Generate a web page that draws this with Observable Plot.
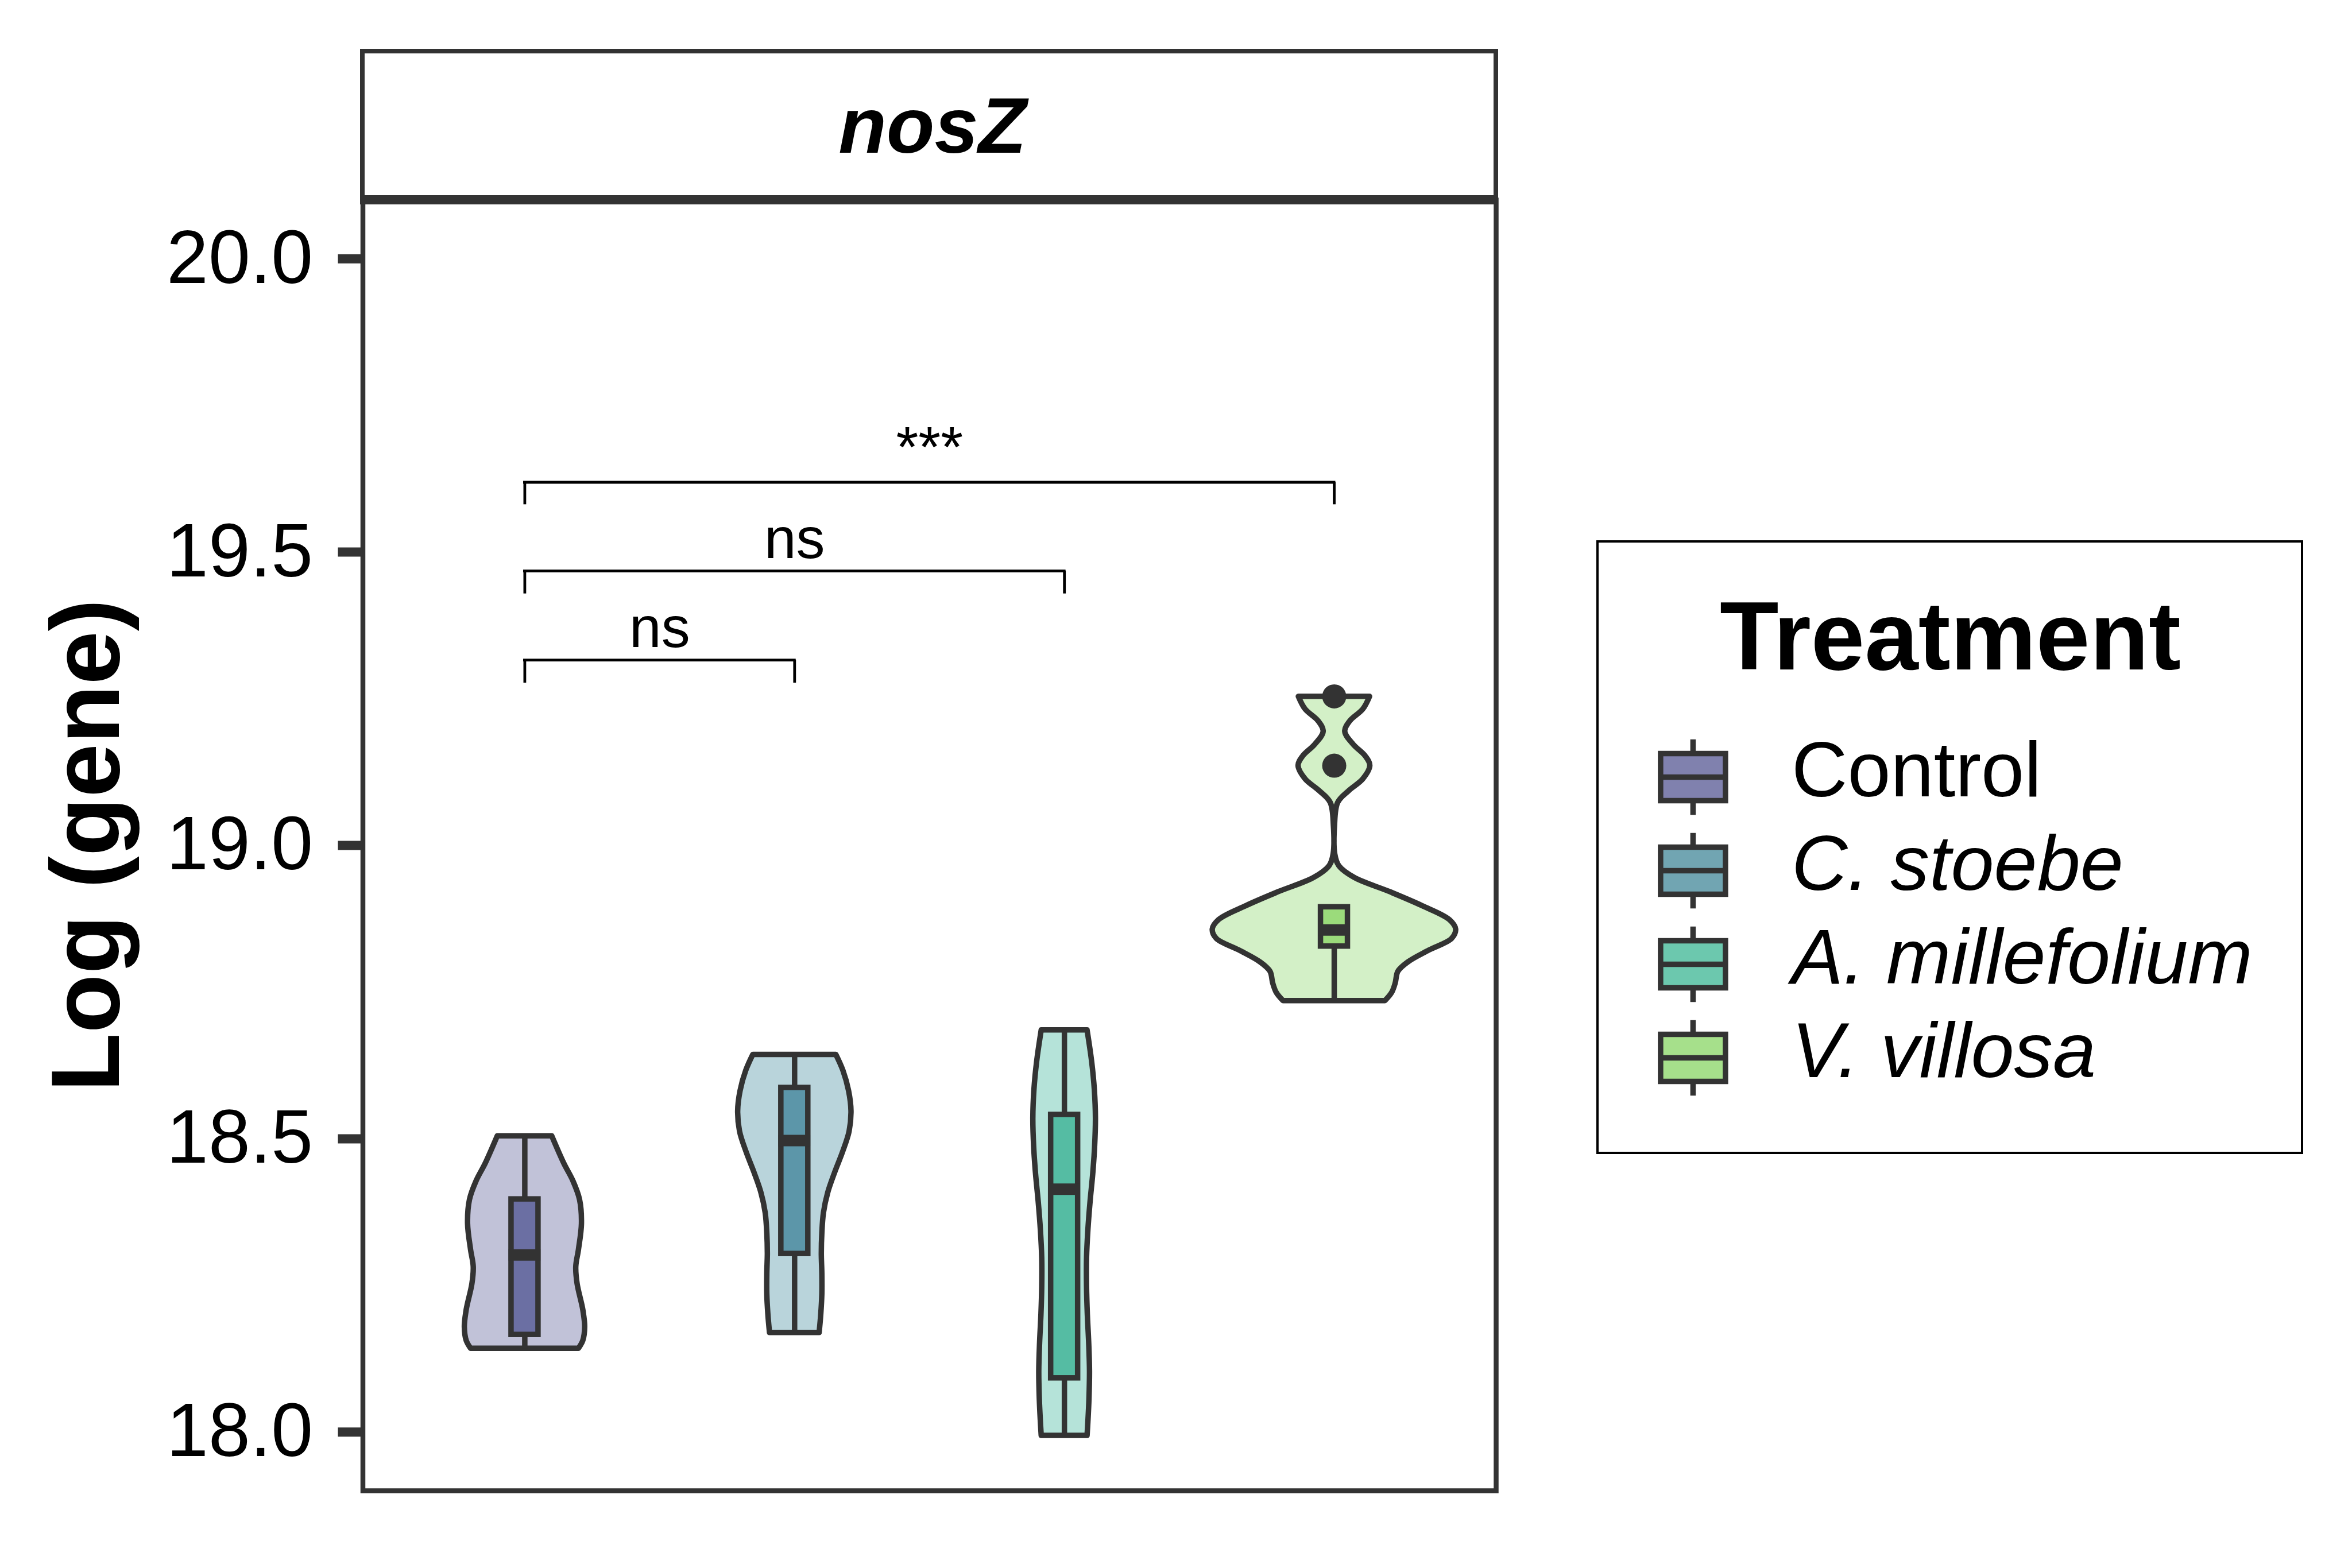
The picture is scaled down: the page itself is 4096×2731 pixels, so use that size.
<!DOCTYPE html>
<html>
<head>
<meta charset="utf-8">
<script src="https://cdn.jsdelivr.net/npm/d3@7"></script>
<script src="https://cdn.jsdelivr.net/npm/@observablehq/plot@0.6"></script>
<style>
  html, body { margin: 0; padding: 0; background: white; }
  #page { position: relative; width: 4096px; height: 2731px; overflow: hidden; background: white;
          font-family: "Liberation Sans", Arial, sans-serif; }
  .abs { position: absolute; }
</style>
</head>
<body>
<div id="page">
  <div id="main" class="abs" style="left:0;top:0;width:2700px;"></div>
  <div id="strip" class="abs" style="left:627.25px;top:84.75px;width:1982px;height:271.25px;box-sizing:border-box;border:8.5px solid #333333;border-bottom-width:16px;background:transparent;"></div>
  <div id="legend" class="abs" style="left:2781.8px;top:943px;width:1227px;height:1065px;"></div>
  <div id="legendBorder" class="abs" style="left:2779.65px;top:940.85px;width:1231.3px;height:1069.3px;box-sizing:border-box;border:4.3px solid #000000;background:transparent;"></div>
</div>
<script>
// ---------- data ----------
const treatments = ["Control", "C. stoebe", "A. millefolium", "V. villosa"];
const boxFill    = ["#6B6FA3", "#5C96A9", "#55BCA3", "#9BDB7B"];
const violinFill = ["#C1C2D8", "#B9D4DB", "#B5E3D9", "#D3F0C7"];
const keyFill    = ["#8081AE", "#71A5B2", "#6CC8AE", "#A6E08B"];

// violin outlines: [value, half-width in category units]
const controlProfile = [[18.5045,0.101],[18.4575,0.146],[18.4283,0.179],[18.396,0.204],[18.355,0.211],[18.311,0.200],[18.2817,0.190],[18.2524,0.195],[18.2084,0.216],[18.179,0.223],[18.1556,0.216],[18.1425,0.200]];
const stoebeProfile = [[18.6432,0.154],[18.6162,0.180],[18.5816,0.201],[18.547,0.210],[18.5123,0.203],[18.4776,0.179],[18.443,0.150],[18.4083,0.124],[18.3737,0.108],[18.339,0.102],[18.3044,0.100],[18.2698,0.102],[18.2351,0.102],[18.2005,0.098],[18.1693,0.092]];
const millefoliumProfile = [[18.685,0.085],[18.631,0.102],[18.583,0.112],[18.535,0.116],[18.487,0.113],[18.440,0.106],[18.392,0.096],[18.344,0.088],[18.296,0.083],[18.248,0.083],[18.200,0.086],[18.152,0.091],[18.104,0.094],[18.056,0.092],[18.017,0.088],[17.994,0.085]];
const villosaProfile = [[19.2536,0.132],[19.232,0.107],[19.212,0.059],[19.194,0.040],[19.172,0.071],[19.152,0.116],[19.136,0.133],[19.113,0.107],[19.093,0.055],[19.073,0.014],[19.033,0.002],[18.985,0.003],[18.965,0.018],[18.945,0.075],[18.921,0.205],[18.897,0.326],[18.873,0.428],[18.857,0.451],[18.841,0.436],[18.821,0.351],[18.801,0.274],[18.785,0.237],[18.765,0.227],[18.749,0.214],[18.735,0.189]];

// box statistics
const whiskerMin = [18.1425, 18.169, 17.994, 18.735];
const q1Values   = [18.166, 18.304, 18.092, 18.828];
const medians    = [18.302, 18.497, 18.414, 18.856];
const q3Values   = [18.397, 18.587, 18.541, 18.895];
const whiskerMax = [18.5045, 18.643, 18.685, 18.895];
const outlierTreatment = ["V. villosa", "V. villosa"];
const outlierValues = [19.254, 19.136];

// significance brackets
const bracketFrom = ["Control", "Control", "Control"];
const bracketTo = ["C. stoebe", "A. millefolium", "V. villosa"];
const bracketY = [19.316, 19.468, 19.619];
const bracketTickY = [19.277, 19.429, 19.581];
const bracketLabelY = [19.3385, 19.490, 19.645];
const bracketLabels = ["ns", "ns", "***"];

const yTicks = [18.0, 18.5, 19.0, 19.5, 20.0];
const yTitle = "Log (gene)";
const stripTitle = "nosZ";
const legendTitle = "Treatment";

// ---------- tables built from the arrays ----------
const idx = t => treatments.indexOf(t) + 1;
const profiles = [controlProfile, stoebeProfile, millefoliumProfile, villosaProfile];
const violinRows = treatments.flatMap((t, i) =>
  profiles[i].map(([y, w]) => ({t, y, x1: i + 1 - w, x2: i + 1 + w, fill: violinFill[i]})));
const boxRows = treatments.map((t, i) => ({
  t, i: i + 1, min: whiskerMin[i], q1: q1Values[i], med: medians[i], q3: q3Values[i], max: whiskerMax[i], fill: boxFill[i]
}));
const outlierRows = outlierValues.map((v, k) => ({i: idx(outlierTreatment[k]), y: v}));
const bracketRows = bracketFrom.map((f, k) => ({
  a: idx(f), b: idx(bracketTo[k]), y: bracketY[k], ty: bracketTickY[k], ly: bracketLabelY[k], label: bracketLabels[k]
}));

const font = "'Liberation Sans', Arial, Helvetica, sans-serif";
const dark = "#333333";
const lw = 9.5;
const halfBox = 0.05;

const main = Plot.plot({
  width: 2700,
  height: 2731,
  marginLeft: 631.5,
  marginRight: 95,
  marginTop: 348,
  marginBottom: 135,
  x: {type: "linear", domain: [0.4, 4.6], axis: null},
  y: {domain: [17.9, 20.1], axis: null},
  color: {type: "identity"},
  style: {fontFamily: font, color: "black", background: "white", overflow: "visible"},
  marks: [
    Plot.areaX(violinRows, {y: "y", x1: "x1", x2: "x2", z: "t", fill: "fill", stroke: dark,
      strokeWidth: lw, strokeLinejoin: "round", curve: "catmull-rom"}),
    Plot.ruleX(boxRows, {x: "i", y1: "q3", y2: "max", stroke: dark, strokeWidth: lw}),
    Plot.ruleX(boxRows, {x: "i", y1: "min", y2: "q1", stroke: dark, strokeWidth: lw}),
    Plot.rect(boxRows, {x1: d => d.i - halfBox, x2: d => d.i + halfBox, y1: "q1", y2: "q3",
      fill: "fill", stroke: dark, strokeWidth: lw}),
    Plot.ruleY(boxRows, {y: "med", x1: d => d.i - halfBox - 0.009, x2: d => d.i + halfBox + 0.009, stroke: dark, strokeWidth: 20}),
    Plot.dot(outlierRows, {x: "i", y: "y", r: 21, fill: dark, stroke: null}),
    Plot.ruleY(bracketRows, {y: "y", x1: "a", x2: "b", stroke: "black", strokeWidth: 4.8, strokeLinecap: "square"}),
    Plot.ruleX(bracketRows, {x: "a", y1: "ty", y2: "y", stroke: "black", strokeWidth: 4.8}),
    Plot.ruleX(bracketRows, {x: "b", y1: "ty", y2: "y", stroke: "black", strokeWidth: 4.8}),
    Plot.text(bracketRows, {x: d => (d.a + d.b) / 2, y: "ly", text: "label", lineAnchor: "bottom",
      fontSize: 100, fill: "black"}),
    Plot.frame({stroke: dark, strokeWidth: 8.5}),
    Plot.axisY({ticks: yTicks, tickFormat: d3.format(".1f"), tickSize: 43, tickPadding: 44,
      fontSize: 131, stroke: dark, strokeWidth: 16, fill: "black", label: null}),
    Plot.text([yTitle], {frameAnchor: "left", dx: -425, rotate: -90, textAnchor: "middle",
      lineAnchor: "bottom", fontSize: 168, fontWeight: "bold", fill: "black"}),
    Plot.text([stripTitle], {frameAnchor: "top", dx: 5, dy: 265 - 348, textAnchor: "middle",
      lineAnchor: "bottom", fontSize: 137, fontWeight: "bold", fontStyle: "italic", fill: "black"})
  ]
});
document.getElementById("main").appendChild(main);

// ---------- legend ----------
const boxKey = {
  draw(ctx) {
    const w = 56.5, h = 41, wh = 65.7;
    ctx.moveTo(-w, -h); ctx.lineTo(w, -h); ctx.lineTo(w, h); ctx.lineTo(-w, h); ctx.closePath();
    ctx.moveTo(-w, 0); ctx.lineTo(w, 0);
    ctx.moveTo(0, -h); ctx.lineTo(0, -wh);
    ctx.moveTo(0, h); ctx.lineTo(0, wh);
  }
};
const legendRows = treatments.map((t, i) => ({t, key: keyFill[i]}));
const legend = Plot.plot({
  width: 1227,
  height: 1065,
  margin: 0,
  x: {type: "identity", axis: null},
  y: {type: "point", domain: treatments, range: [408.6, 900.1], padding: 0, axis: null},
  color: {type: "identity"},
  style: {fontFamily: font, color: "black", background: "white", overflow: "visible"},
  marks: [
    Plot.dot(legendRows, {x: 165.9, y: "t", symbol: boxKey, r: 5, fill: "key", stroke: dark, strokeWidth: lw}),
    Plot.text(legendRows.filter(d => d.t === "Control"), {x: 337.5, y: "t", text: "t", dy: 33,
      textAnchor: "start", lineAnchor: "bottom", fontSize: 135, fill: "black"}),
    Plot.text(legendRows.filter(d => d.t !== "Control"), {x: 337.5, y: "t", text: "t", dy: 33,
      textAnchor: "start", lineAnchor: "bottom", fontSize: 135, fontStyle: "italic", fill: "black"}),
    Plot.text([legendTitle], {x: 614, frameAnchor: "top", dy: 222.6, textAnchor: "middle",
      lineAnchor: "bottom", fontSize: 168, fontWeight: "bold", fill: "black"})
  ]
});
document.getElementById("legend").appendChild(legend);
</script>
</body>
</html>
